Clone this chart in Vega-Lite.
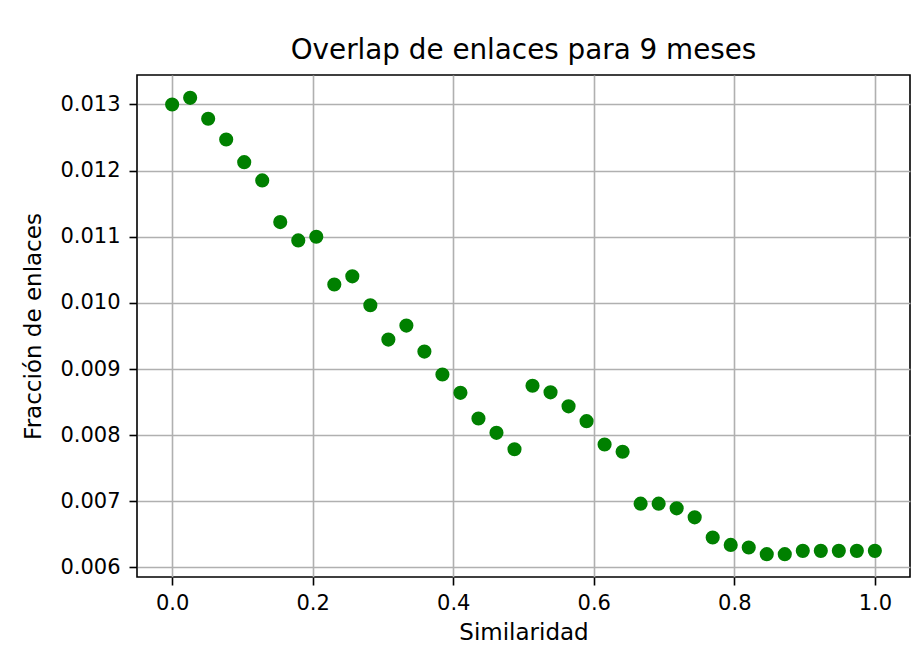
{
  "$schema": "https://vega.github.io/schema/vega-lite/v6.json",
  "autosize": {"type": "none"},
  "width": 773,
  "height": 502,
  "padding": {"left": 137, "top": 75, "right": 14, "bottom": 80},
  "background": "white",
  "title": {"text": "Overlap de enlaces para 9 meses", "font": "DejaVu Sans", "fontSize": 27.8, "fontWeight": "normal", "color": "black", "offset": 10},
  "config": {
    "view": {"stroke": "black", "strokeWidth": 1.6},
    "axis": {
      "labelFont": "DejaVu Sans", "labelFontSize": 21, "labelColor": "black",
      "titleFont": "DejaVu Sans", "titleFontSize": 23, "titleFontWeight": "normal", "titleColor": "black",
      "gridColor": "#b0b0b0", "gridWidth": 1.6, "gridOpacity": 1,
      "tickColor": "black", "tickWidth": 1.6, "tickSize": 8,
      "domain": false, "labelPadding": 7
    }
  },
  "data": {"values": [
    {"sim": 0.0, "frac": 0.01300},
    {"sim": 0.025641, "frac": 0.013101},
    {"sim": 0.051282, "frac": 0.012784},
    {"sim": 0.076923, "frac": 0.012471},
    {"sim": 0.102564, "frac": 0.012128},
    {"sim": 0.128205, "frac": 0.011852},
    {"sim": 0.153846, "frac": 0.011222},
    {"sim": 0.179487, "frac": 0.010945},
    {"sim": 0.205128, "frac": 0.011000},
    {"sim": 0.230769, "frac": 0.010278},
    {"sim": 0.25641, "frac": 0.010402},
    {"sim": 0.282051, "frac": 0.009964},
    {"sim": 0.307692, "frac": 0.009446},
    {"sim": 0.333333, "frac": 0.009657},
    {"sim": 0.358974, "frac": 0.009264},
    {"sim": 0.384615, "frac": 0.008917},
    {"sim": 0.410256, "frac": 0.008640},
    {"sim": 0.435897, "frac": 0.008252},
    {"sim": 0.461538, "frac": 0.008036},
    {"sim": 0.487179, "frac": 0.007788},
    {"sim": 0.512821, "frac": 0.008748},
    {"sim": 0.538462, "frac": 0.008648},
    {"sim": 0.564103, "frac": 0.008436},
    {"sim": 0.589744, "frac": 0.008212},
    {"sim": 0.615385, "frac": 0.007860},
    {"sim": 0.641026, "frac": 0.007749},
    {"sim": 0.666667, "frac": 0.006965},
    {"sim": 0.692308, "frac": 0.006965},
    {"sim": 0.717949, "frac": 0.006894},
    {"sim": 0.74359, "frac": 0.006758},
    {"sim": 0.769231, "frac": 0.006453},
    {"sim": 0.794872, "frac": 0.006341},
    {"sim": 0.820513, "frac": 0.006302},
    {"sim": 0.846154, "frac": 0.006201},
    {"sim": 0.871795, "frac": 0.006201},
    {"sim": 0.897436, "frac": 0.006251},
    {"sim": 0.923077, "frac": 0.006251},
    {"sim": 0.948718, "frac": 0.006251},
    {"sim": 0.974359, "frac": 0.006251},
    {"sim": 1.0, "frac": 0.006251}
  ]},
  "mark": {"type": "circle", "color": "#008000", "opacity": 1, "size": 200},
  "encoding": {
    "x": {"field": "sim", "type": "quantitative", "title": "Similaridad",
      "scale": {"domain": [-0.05, 1.05], "nice": false, "zero": false},
      "axis": {"values": [0, 0.2, 0.4, 0.6, 0.8, 1.0], "format": ".1f", "titlePadding": 8}},
    "y": {"field": "frac", "type": "quantitative", "title": "Fracción de enlaces",
      "scale": {"domain": [0.005856, 0.013446], "nice": false, "zero": false},
      "axis": {"values": [0.006, 0.007, 0.008, 0.009, 0.010, 0.011, 0.012, 0.013], "format": ".3f", "labelPadding": 9, "titlePadding": 14}}
  }
}
